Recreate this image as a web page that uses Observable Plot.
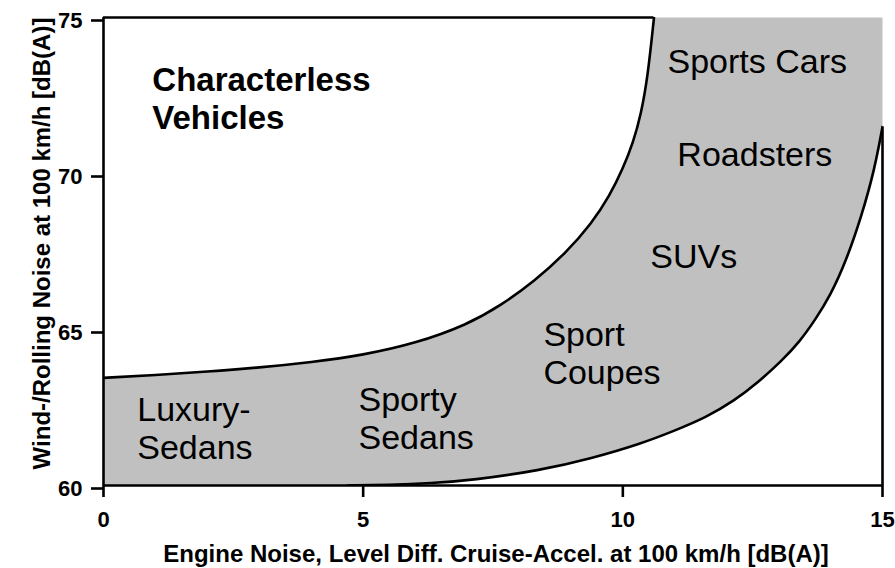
<!DOCTYPE html>
<html>
<head>
<meta charset="utf-8">
<script src="https://cdn.jsdelivr.net/npm/d3@7"></script>
<script src="https://cdn.jsdelivr.net/npm/@observablehq/plot@0.6"></script>
<style>
  html, body { margin: 0; padding: 0; background: #fff; }
  #chart svg { display: block; }
</style>
</head>
<body>
<div id="chart"></div>
<script>
// ---- data ----
const xDomain = [0, 15];
const yDomain = [60, 75];
const xTicks = [0, 5, 10, 15];
const yTicks = [60, 65, 70, 75];

// upper boundary of the band
const upperX = [0, 1, 2, 3, 4, 5, 6, 7, 7.65, 8.3, 8.9, 9.4, 9.75, 10.0, 10.2, 10.35, 10.48, 10.6];
const upperY = [63.45, 63.54, 63.65, 63.78, 63.95, 64.18, 64.55, 65.15, 65.77, 66.55, 67.45, 68.4, 69.3, 70.15, 71.0, 71.9, 73.1, 75];

// lower boundary of the band
const lowerX = [4.7, 5.5, 6.3, 7.1, 8.4, 9.4, 10.35, 11.0, 11.6, 12.15, 12.6, 13.05, 13.4, 13.7, 14.0, 14.3, 14.6, 14.85, 15.0];
const lowerY = [60.0, 60.02, 60.07, 60.17, 60.48, 60.87, 61.34, 61.76, 62.18, 62.72, 63.3, 63.98, 64.6, 65.3, 66.1, 67.2, 68.65, 70.15, 71.5];

// region annotations (anchor = top-left of text, in data units)
const labelText = ["Characterless\nVehicles", "Sports Cars", "Roadsters", "SUVs", "Sport\nCoupes", "Sporty\nSedans", "Luxury-\nSedans"];
const labelX = [0.94, 10.86, 11.05, 10.53, 8.47, 4.91, 0.65];
const labelY = [73.53, 74.10, 71.12, 67.85, 65.35, 63.27, 62.95];

const xTitle = "Engine Noise, Level Diff. Cruise-Accel. at 100 km/h [dB(A)]";
const yTitle = "Wind-/Rolling Noise at 100 km/h [dB(A)]";

// ---- build tables ----
const upper = upperX.map((x, i) => ({x, y: upperY[i]}));
const lower = lowerX.map((x, i) => ({x, y: lowerY[i]}));
const labels = labelText.map((t, i) => ({t, x: labelX[i], y: labelY[i]}));

const curve = "basis";
const gray = "#c0c0c0";
const font = "'Liberation Sans', Arial, Helvetica, sans-serif";
const sw = 2.6;

const chart = Plot.plot({
  width: 895,
  height: 568,
  marginTop: 17,
  marginRight: 13,
  marginBottom: 83,
  marginLeft: 103,
  x: {domain: xDomain},
  y: {domain: yDomain},
  style: {fontFamily: font, background: "white", color: "black", overflow: "visible"},
  marks: [
    Plot.frame({fill: gray, stroke: "none"}),
    Plot.areaY(upper, {x: "x", y1: "y", y2: yDomain[1], fill: "white", curve, clip: true}),
    Plot.areaY(lower, {x: "x", y1: yDomain[0], y2: "y", fill: "white", curve, clip: true}),
    Plot.line(upper, {x: "x", y: "y", curve, stroke: "black", strokeWidth: sw, clip: true}),
    Plot.line(lower, {x: "x", y: "y", curve, stroke: "black", strokeWidth: sw, clip: true}),
    // frame edges bounding the white regions
    Plot.ruleX([xDomain[0]], {y1: yDomain[0], y2: yDomain[1], stroke: "black", strokeWidth: sw}),
    Plot.ruleY([yDomain[0]], {x1: xDomain[0], x2: xDomain[1], stroke: "black", strokeWidth: sw}),
    Plot.ruleY([yDomain[1]], {x1: xDomain[0], x2: upperX[upperX.length - 1], stroke: "black", strokeWidth: sw}),
    Plot.ruleX([xDomain[1]], {y1: yDomain[0], y2: lowerY[lowerY.length - 1], stroke: "black", strokeWidth: sw}),
    // axes
    Plot.axisX({ticks: xTicks, tickSize: 12, tickPadding: 14, fontSize: 22, fontWeight: "bold", strokeWidth: sw, label: null, tickFormat: d => String(d)}),
    Plot.axisY({ticks: yTicks, tickSize: 12, tickPadding: 9, fontSize: 22, fontWeight: "bold", strokeWidth: sw, label: null, dy: 3, tickFormat: d => String(d)}),
    // axis titles
    Plot.text([xTitle], {text: d => d, frameAnchor: "bottom", textAnchor: "middle", lineAnchor: "bottom", dy: 76, dx: 3, fontSize: 24, fontWeight: "bold"}),
    Plot.text([yTitle], {text: d => d, frameAnchor: "left", textAnchor: "middle", lineAnchor: "bottom", rotate: -90, dx: -54, dy: -8, fontSize: 24, fontWeight: "bold"}),
    // region labels
    Plot.text(labels.slice(0, 1), {x: "x", y: "y", text: "t", textAnchor: "start", lineAnchor: "top", lineHeight: 1.16, fontSize: 33, fontWeight: "bold"}),
    Plot.text(labels.slice(1), {x: "x", y: "y", text: "t", textAnchor: "start", lineAnchor: "top", lineHeight: 1.13, fontSize: 34})
  ]
});
document.getElementById("chart").appendChild(chart);
</script>
</body>
</html>
